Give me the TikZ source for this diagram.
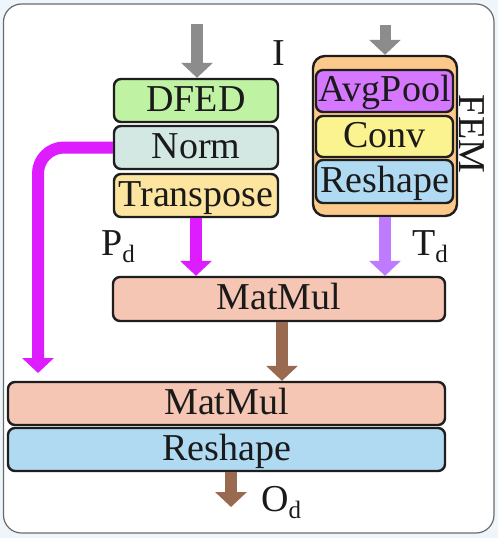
\documentclass[tikz,border=0pt]{standalone}
\usepackage{fontspec}
\setmainfont{Liberation Serif}
\usetikzlibrary{arrows.meta}
\definecolor{bgblue}{HTML}{EEF6FB}
\definecolor{framec}{HTML}{6A6A6A}
\definecolor{boxline}{HTML}{1E1E1E}
\definecolor{txt}{HTML}{1A1A1A}
\definecolor{cdfed}{HTML}{BFF2A3}
\definecolor{cnorm}{HTML}{D3E8E2}
\definecolor{ctrans}{HTML}{FDE5A0}
\definecolor{cfem}{HTML}{FDC98B}
\definecolor{cavg}{HTML}{D678FF}
\definecolor{cconv}{HTML}{FBF290}
\definecolor{cresh}{HTML}{B0D9F2}
\definecolor{cmm}{HTML}{F5C6B4}
\definecolor{cgray}{HTML}{8C8C8C}
\definecolor{cmag}{HTML}{DD1CFF}
\definecolor{ctd}{HTML}{BE7BFF}
\definecolor{cbrn}{HTML}{9A6A50}
\newcommand{\lsub}[1]{\raisebox{-7pt}{\fontsize{25}{25}\selectfont #1}}
\begin{document}
\begin{tikzpicture}[x=1pt,y=-1pt,
  blk/.style={draw=boxline, line width=2.4pt, rounded corners=7pt, inner sep=0pt,
    text height=25pt, text depth=4pt, font=\fontsize{38}{40}\selectfont, text=txt},
  lbl/.style={inner sep=0pt, font=\fontsize{38}{40}\selectfont, text=txt},
  fat/.style={line width=12pt, -{Triangle[width=31pt,length=15pt]}},
]
\useasboundingbox (0,0) rectangle (498,538);
\fill[bgblue] (0,0) rectangle (498,538);
\draw[framec, fill=white, line width=1.2pt, rounded corners=18pt] (3.5,4) rectangle (494,533);

% left column
\node[blk, fill=cdfed, minimum width=164pt, minimum height=43pt] (dfed) at (196,100.5) {DFED};
\node[blk, fill=cnorm, minimum width=164pt, minimum height=43pt] (norm) at (196,147.5) {Norm};
\node[blk, fill=ctrans, minimum width=164pt, minimum height=43pt] (trans) at (196,195.5) {Transpose};

% FEM
\node[draw=boxline, line width=2.4pt, rounded corners=12pt, fill=cfem, minimum width=144pt, minimum height=160pt, inner sep=0pt] (fem) at (385,136) {};
\node[blk, fill=cavg, minimum width=137pt, minimum height=42pt] (avg) at (384.5,91) {AvgPool};
\node[blk, fill=cconv, minimum width=137pt, minimum height=41pt] (conv) at (384.5,136.5) {Conv};
\node[blk, fill=cresh, minimum width=137pt, minimum height=43pt] (resh) at (384.5,181.5) {Reshape};
\node[lbl, rotate=-90] (femlbl) at (472,134) {FEM};

% lower blocks
\node[blk, fill=cmm, minimum width=332pt, minimum height=44pt] (mm1) at (279,299) {MatMul};
\node[blk, fill=cmm, minimum width=437pt, minimum height=43pt] (mm2) at (226.5,403.5) {MatMul};
\node[blk, fill=cresh, minimum width=437pt, minimum height=43pt] (resh2) at (226.5,449.5) {Reshape};

% labels
\node[lbl, anchor=base] (ilbl) at (279,65) {I};
\node[lbl, anchor=base west] (pd) at (101,255) {P\lsub{d}};
\node[lbl, anchor=base west] (td) at (412,255) {T\lsub{d}};
\node[lbl, anchor=base west] (od) at (261,511) {O\lsub{d}};

% arrows
\coordinate (g1) at (197,24);
\coordinate (g2) at (385,25);
\draw[fat, cgray] (g1) -- (g1 |- dfed.north);
\draw[fat, cgray, line width=11pt] (g2) -- (g2 |- fem.north);
\coordinate (mgEnd) at (38,373);
\draw[fat, cmag, rounded corners=26pt] (norm.west) -| (mgEnd);
\draw[fat, cmag] (trans.south) -- (trans.south |- mm1.north);
\draw[fat, ctd] (fem.south) -- (fem.south |- mm1.north);
\coordinate (bx) at (282,0);
\draw[fat, cbrn] (bx |- mm1.south) -- (bx |- mm2.north);
\coordinate (oEnd) at (231,507);
\draw[fat, cbrn] (oEnd |- resh2.south) -- (oEnd);
\end{tikzpicture}
\end{document}
